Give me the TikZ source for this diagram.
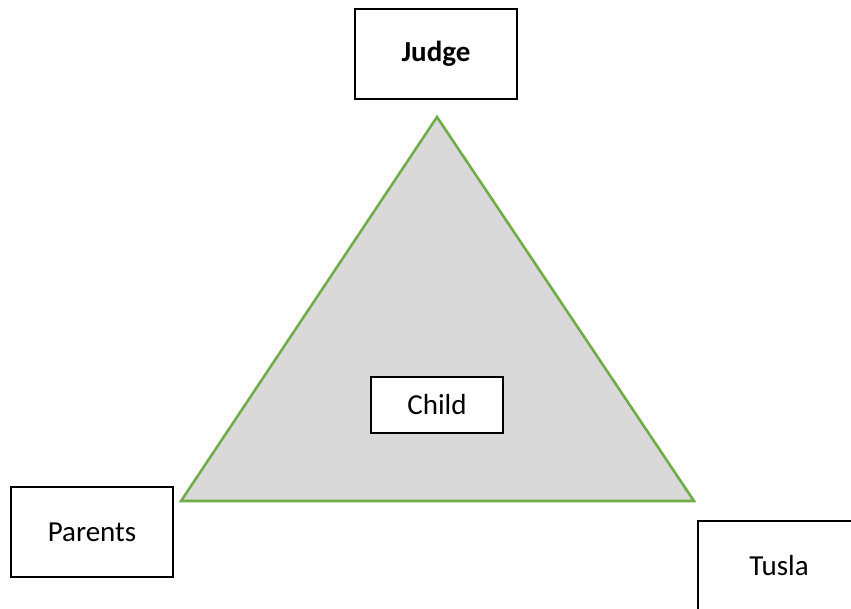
\documentclass[tikz,border=0pt]{standalone}
\usepackage{fontspec}
\setmainfont{Carlito}
\definecolor{trigreen}{HTML}{70AD47}
\definecolor{trigray}{HTML}{D9D9D9}
\begin{document}
\begin{tikzpicture}[x=1pt,y=-1pt,
  box/.style={draw=black,line width=1.8pt,fill=white,minimum width=162pt,minimum height=90pt,inner sep=0pt,font=\fontsize{29}{34}\selectfont}]
\useasboundingbox (0,0) rectangle (851,608);
\clip (0,0) rectangle (851,608);
\coordinate (apex) at (437,117);
\coordinate (bl) at (181,501);
\coordinate (br) at (694,501);
\draw[trigreen,fill=trigray,line width=2.6pt,line join=miter] (apex) -- (br) -- (bl) -- cycle;
\node[box] (judge) at (436,54) {\textbf{Judge}};
\node[box,minimum width=132pt,minimum height=56pt] (child) at (437,405) {Child};
\node[box] (parents) at (92,532) {Parents};
\node[box] (tusla) at (779,566) {Tusla};
\end{tikzpicture}
\end{document}
